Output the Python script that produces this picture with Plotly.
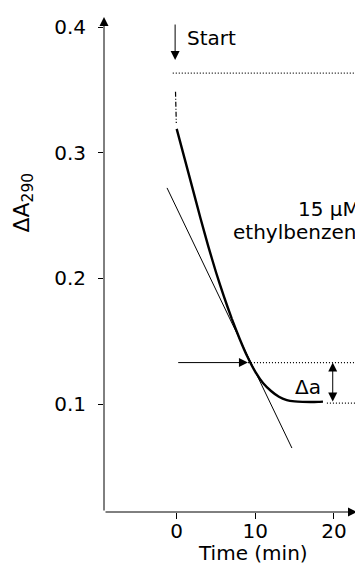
import plotly.graph_objects as go

# ---- data ----
time_min = [0, 1, 2, 3, 4, 5, 6, 7, 8, 9, 10, 11, 12, 13, 14, 15, 16, 17, 18, 18.6]
delta_a290 = [0.319, 0.2955, 0.272, 0.2485, 0.2259, 0.2049, 0.1856, 0.168, 0.152, 0.1376,
              0.1256, 0.1166, 0.1104, 0.1058, 0.1032, 0.1021, 0.1017, 0.1016, 0.1017, 0.1019]

mix_t = [-0.15, -0.05]          # mixing artefact right after start
mix_y = [0.3485, 0.3236]

tangent_t = [-1.23, 14.65]
tangent_y = [0.272, 0.065]

level_start = 0.3634
level_mid = 0.133
level_end = 0.1008
start_t = -0.2
mid_arrow_t = 9.06
da_arrow_t = 19.84

x_ticks = [0, 10, 20]
y_ticks = [0.1, 0.2, 0.3, 0.4]
y_tick_text = ["0.1", "0.2", "0.3", "0.4"]

x_range = [-9.243, 23.69]
y_range = [0.0141, 0.408]

# ---- layout geometry (page body has an 8px margin) ----
OFF = 8
PL, PR, PT, PB = 104, 363, 17, 512          # plot box in window pixels
W, H = 363 - OFF, 567 - OFF


def px2paper_x(px):
    return (px - PL) / (PR - PL)


def py2paper_y(py):
    return (PB - py) / (PB - PT)


def px2t(px):
    return x_range[0] + (px - PL) / (PR - PL) * (x_range[1] - x_range[0])


def py2v(py):
    return y_range[1] - (py - PT) / (PB - PT) * (y_range[1] - y_range[0])


FONT = "DejaVu Sans"
dot = "1px,2px"
tf = dict(family=FONT, size=20, color="black")

fig = go.Figure()

# dotted reference levels
for x0, lvl in [(start_t - 0.3, level_start), (mid_arrow_t, level_mid), (19.1, level_end)]:
    fig.add_trace(go.Scatter(x=[x0, 25], y=[lvl, lvl], mode="lines",
                             line=dict(color="black", width=1.3, dash=dot), hoverinfo="skip"))

# tangent
fig.add_trace(go.Scatter(x=tangent_t, y=tangent_y, mode="lines",
                         line=dict(color="black", width=1), hoverinfo="skip"))

# mixing segment
fig.add_trace(go.Scatter(x=mix_t, y=mix_y, mode="lines",
                         line=dict(color="black", width=1.2, dash="5px,2px,1px,2px"), hoverinfo="skip"))

# measured trace
fig.add_trace(go.Scatter(x=time_min, y=delta_a290, mode="lines",
                         line=dict(color="black", width=2.4, shape="spline", smoothing=0.5),
                         hoverinfo="skip"))

arrow = dict(showarrow=True, arrowhead=2, arrowsize=1.8, arrowwidth=1, arrowcolor="black", text="")
ann = []
# axis lines with arrowheads
ann.append(dict(x=0, y=1, xref="paper", yref="paper", ax=0, ay=PB - PT, axref="pixel", ayref="pixel", **arrow))
ann.append(dict(x=px2paper_x(357), y=0, xref="paper", yref="paper", ax=-(357 - PL), ay=0,
                axref="pixel", ayref="pixel", **arrow))
# start arrow
ann.append(dict(x=start_t, y=0.3737, xref="x", yref="y", ax=start_t, ay=0.4032, axref="x", ayref="y", **arrow))
# horizontal arrow to the intersection
ann.append(dict(x=mid_arrow_t, y=level_mid, xref="x", yref="y", ax=0, ay=level_mid, axref="x", ayref="y", **arrow))
# delta a double arrow
ann.append(dict(x=da_arrow_t, y=level_mid, xref="x", yref="y", ax=da_arrow_t, ay=level_end, axref="x", ayref="y",
                startarrowhead=2, arrowside="end+start", startarrowsize=1.8, **arrow))
# total double arrow (mostly outside the crop)
ann.append(dict(x=px2paper_x(365), y=level_start - 0.004, xref="paper", yref="y", ax=0, ay=level_end,
                axref="pixel", ayref="y", startarrowhead=2, arrowside="end+start", startarrowsize=1.8, **arrow))

ann.append(dict(x=px2t(185), y=py2v(37.7), xref="x", yref="y", text="Start", showarrow=False,
                xanchor="left", yanchor="middle", font=tf))
ann.append(dict(x=px2t(296), y=py2v(208.5), xref="x", yref="y", text="15 μM", showarrow=False,
                xanchor="left", yanchor="middle", font=tf))
ann.append(dict(x=px2t(231), y=py2v(231.5), xref="x", yref="y", text="ethylbenzene", showarrow=False,
                xanchor="left", yanchor="middle", font=tf))
ann.append(dict(x=px2t(308), y=py2v(386.5), xref="x", yref="y", text="Δa", showarrow=False,
                xanchor="center", yanchor="middle", font=tf))
# axis titles
ann.append(dict(x=px2paper_x(23), y=py2paper_y(202.5), xref="paper", yref="paper",
                text="ΔA<sub>290</sub>", textangle=-90, showarrow=False,
                xanchor="center", yanchor="middle", font=dict(family=FONT, size=22, color="black")))
ann.append(dict(x=px2paper_x(253), y=py2paper_y(553), xref="paper", yref="paper",
                text="Time (min)", showarrow=False, xanchor="center", yanchor="middle", font=tf))

fig.update_layout(
    width=W, height=H,
    margin=dict(l=PL - OFF, r=0, t=PT - OFF, b=H - (PB - OFF), pad=0),
    paper_bgcolor="white", plot_bgcolor="white",
    showlegend=False,
    annotations=ann,
    font=tf,
)
fig.update_xaxes(range=x_range, showgrid=False, zeroline=False, showline=False,
                 tickmode="array", tickvals=x_ticks, ticks="outside", ticklen=6, tickwidth=1,
                 tickcolor="black", tickfont=tf, ticklabelstandoff=-5)
fig.update_yaxes(range=y_range, showgrid=False, zeroline=False, showline=False,
                 tickmode="array", tickvals=y_ticks, ticktext=y_tick_text, ticks="outside",
                 ticklen=5, tickwidth=1, tickcolor="black", tickfont=tf, ticklabelstandoff=8)

fig.write_html("out.html")
